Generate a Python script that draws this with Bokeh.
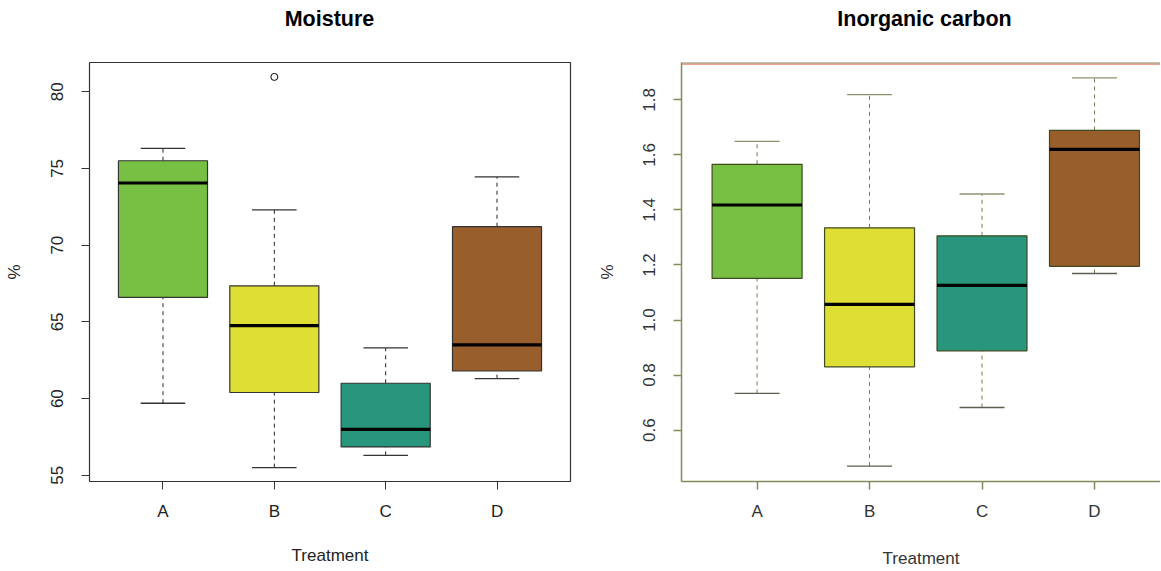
from bokeh.plotting import figure
from bokeh.layouts import row, column
from bokeh.models import FixedTicker, Span, Range1d, PrintfTickFormatter, Div
from bokeh.embed import file_html
from bokeh.resources import INLINE

categories = ["A", "B", "C", "D"]

moist_min = [59.7, 55.5, 56.3, 61.3]
moist_q1 = [66.6, 60.4, 56.85, 61.8]
moist_med = [74.05, 64.75, 58.0, 63.5]
moist_q3 = [75.5, 67.35, 61.0, 71.2]
moist_max = [76.3, 72.3, 63.3, 74.45]
moist_out_cat = ["B"]
moist_out_val = [80.96]

carbon_min = [0.733, 0.469, 0.682, 1.169]
carbon_q1 = [1.151, 0.830, 0.888, 1.195]
carbon_med = [1.418, 1.057, 1.126, 1.620]
carbon_q3 = [1.566, 1.335, 1.306, 1.689]
carbon_max = [1.649, 1.819, 1.458, 1.880]

fills = ["#77c043", "#dede35", "#27967c", "#985f2c"]
FONT = "Liberation Sans"


def title_div(text, width, margin):
    html = ('<div style="display:block;width:%dpx;font-family:\'Liberation Sans\',Arial,sans-serif;'
            'font-size:21.5px;font-weight:bold;text-align:center;line-height:26px;color:#000;'
            'white-space:nowrap">%s</div>' % (width, text))
    return Div(text=html, width=width, height=26, margin=margin,
               styles={"text-align": "center", "width": "%dpx" % width})


def make_panel(mn, q1, med, q3, mx, out_cat, out_val, yr, yticks, xr,
               width, border_left, border_right, axis_col, box_col, whisk_col,
               cap_cols, label_col, ylab_standoff, xlab_standoff):
    xs = [categories.index(c) + 1 for c in categories]
    p = figure(width=width, height=539, output_backend="svg", toolbar_location=None,
               x_range=Range1d(*xr), y_range=Range1d(*yr),
               min_border_left=border_left, min_border_right=border_right,
               min_border_top=30, min_border_bottom=90)
    p.grid.visible = False
    p.background_fill_color = "white"
    p.border_fill_color = "white"

    hw = 0.4
    p.segment(x0=xs, x1=xs, y0=q3, y1=mx, line_color=whisk_col, line_dash="4 4", line_width=1)
    p.segment(x0=xs, x1=xs, y0=mn, y1=q1, line_color=whisk_col, line_dash="4 4", line_width=1)
    p.segment(x0=[x - hw / 2 for x in xs], x1=[x + hw / 2 for x in xs], y0=mx, y1=mx,
              line_color=cap_cols[0], line_width=1.3)
    p.segment(x0=[x - hw / 2 for x in xs], x1=[x + hw / 2 for x in xs], y0=mn, y1=mn,
              line_color=cap_cols[1], line_width=1.3)
    p.vbar(x=xs, width=2 * hw, bottom=q1, top=q3, fill_color=fills, line_color=box_col, line_width=1.2)
    p.segment(x0=[x - hw for x in xs], x1=[x + hw for x in xs], y0=med, y1=med,
              line_color="black", line_width=3.2)
    if out_cat:
        ox = [categories.index(c) + 1 for c in out_cat]
        p.scatter(x=ox, y=out_val, marker="circle", size=7, fill_color=None,
                  line_color="black", line_width=1)

    for ax in (p.xaxis[0], p.yaxis[0]):
        ax.major_tick_in = 0
        ax.major_tick_out = 8
        ax.minor_tick_line_color = None
        ax.major_label_text_font = FONT
        ax.major_label_text_font_size = "17px"
        ax.major_label_text_color = label_col
        ax.major_tick_line_color = axis_col
        ax.axis_label_text_font = FONT
        ax.axis_label_text_font_size = "17px"
        ax.axis_label_text_font_style = "normal"
        ax.axis_label_text_color = label_col

    p.xaxis.ticker = FixedTicker(ticks=xs)
    p.xaxis.major_label_overrides = {x: c for x, c in zip(xs, categories)}
    p.xaxis.major_label_standoff = 12
    p.xaxis.axis_label = "Treatment"
    p.xaxis.axis_label_standoff = xlab_standoff
    p.yaxis.ticker = FixedTicker(ticks=yticks)
    p.yaxis.major_label_orientation = "vertical"
    p.yaxis.major_label_standoff = 18
    p.yaxis.axis_label = "%"
    p.yaxis.axis_label_standoff = ylab_standoff
    return p


left = make_panel(moist_min, moist_q1, moist_med, moist_q3, moist_max,
                  moist_out_cat, moist_out_val, (54.6, 81.9), [55, 60, 65, 70, 75, 80],
                  (0.34, 4.66), 583, 89, 13, "#333333", "#333333", "#222222",
                  ["#333333", "#333333"], "#222222", 25, 22)
left.outline_line_color = "#333333"
left.outline_line_width = 1.2
left.xaxis.axis_line_color = None
left.yaxis.axis_line_color = None

olive = "#7f8c58"
right = make_panel(carbon_min, carbon_q1, carbon_med, carbon_q3, carbon_max,
                   [], [], (0.413, 1.936), [0.6, 0.8, 1.0, 1.2, 1.4, 1.6, 1.8],
                   (0.328, 4.587), 577, 98, 0, olive, "#3f4a1e", "#6f7f48",
                   ["#8a9570", "#5a5f50"], "#333333", 24, 25)
right.yaxis.formatter = PrintfTickFormatter(format="%.1f")
right.outline_line_color = None
right.xaxis.axis_line_color = olive
right.yaxis.axis_line_color = olive
right.xaxis.axis_line_width = 1.5
right.yaxis.axis_line_width = 1.5
right.yaxis.major_tick_line_width = 1.5
right.xaxis.major_tick_line_width = 1.5
right.add_layout(Span(location=1.936, dimension="width", line_color=olive, line_width=2))
right.add_layout(Span(location=1.930, dimension="width", line_color="#e07060", line_width=1))

left_col = column(title_div("Moisture", 481, (6, 13, 0, 89)), left, spacing=0)
right_col = column(title_div("Inorganic carbon", 471, (6, 0, 0, 106)), right, spacing=0)
layout = row(left_col, right_col, spacing=0)
open("out.html", "w").write(file_html(layout, INLINE))
